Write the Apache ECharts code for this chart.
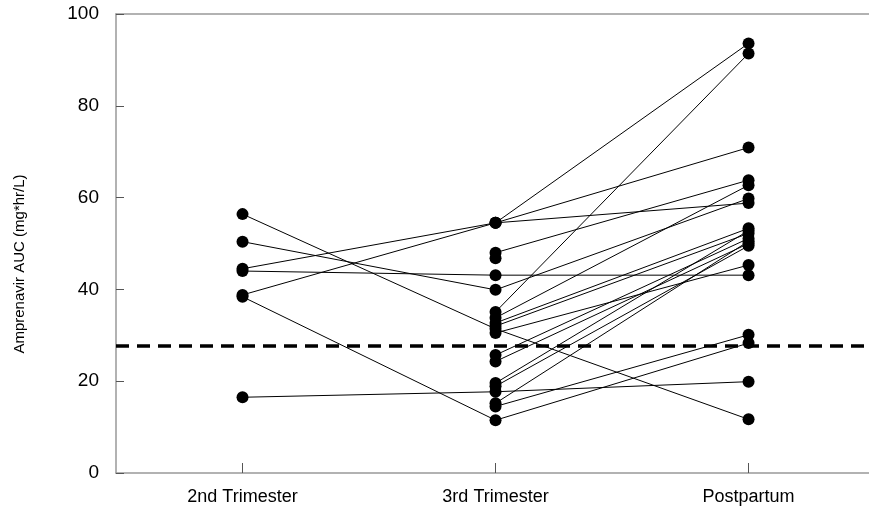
<!DOCTYPE html>
<html>
<head>
<meta charset="utf-8">
<script src="https://cdn.jsdelivr.net/npm/echarts@6/dist/echarts.min.js"></script>
<style>html,body{margin:0;padding:0;background:#fff;overflow:hidden}#c{width:869px;height:510px}</style>
</head>
<body>
<div id="c"></div>
<script>
// Visits (x categories)
const categories = ['2nd Trimester', '3rd Trimester', 'Postpartum'];
// One entry per subject; null = no measurement at that visit
const trimester2 = [56.4, 50.4, 44.5, 44.0, 38.8, 38.4, 16.5, null, null, null, null, null, null, null, null, null, null, null, null, null, null];
const trimester3 = [31.4, 39.9, 54.5, 43.1, 54.5, 11.5, 17.7, 54.5, 48.0, 46.8, 35.1, 33.8, 32.7, 32.0, 30.5, 25.7, 24.3, 19.6, 18.9, 15.2, 14.5];
const postpartum = [11.7, 59.8, 93.6, 43.1, 70.9, 28.3, 19.9, 58.8, 63.8, null, 91.4, 62.7, 53.3, 52.2, 45.3, 51.1, 50.0, 52.8, 49.5, 50.5, 30.1];
// Reference threshold line
const thresholdValue = 27.7;
// Y axis ticks
const yTicks = [0, 20, 40, 60, 80, 100];
const yTitle = 'Amprenavir AUC (mg*hr/L)';

const catIdx = categories.map((c, i) => i);
const chart = echarts.init(document.getElementById('c'), null, {renderer: 'canvas'});
const series = trimester2.map((v, i) => ({
  type: 'line',
  data: [v, trimester3[i], postpartum[i]].map((y, k) => [catIdx[k], y]),
  symbol: 'circle',
  symbolSize: 12,
  showAllSymbol: true,
  connectNulls: false,
  animation: false,
  itemStyle: {color: '#000'},
  lineStyle: {color: '#000', width: 1},
  emphasis: {disabled: true},
  z: 3
}));
series.push({
  type: 'line',
  data: [],
  animation: false,
  markLine: {
    silent: true,
    symbol: ['none', 'none'],
    label: {show: false},
    lineStyle: {color: '#000', width: 3.5, type: [13, 8]},
    data: [{yAxis: thresholdValue}]
  }
});

const xMin = -0.5, xMax = 2.476;
chart.setOption({
  backgroundColor: '#fff',
  animation: false,
  grid: {left: 116, top: 14, bottom: 37, right: 0, show: false},
  graphic: [{
    type: 'text',
    x: 20, y: 264,
    rotation: Math.PI / 2,
    style: {text: yTitle, fill: '#000', font: '15px "Liberation Sans", Arial, sans-serif', textAlign: 'center', textVerticalAlign: 'middle'}
  }],
  xAxis: [{
    type: 'value',
    min: xMin,
    max: xMax,
    axisLine: {onZero: false, lineStyle: {color: '#999', width: 1.5}},
    axisTick: {show: true, inside: true, length: 10, customValues: catIdx, lineStyle: {color: '#555', width: 1}},
    axisLabel: {
      color: '#000', fontFamily: 'Liberation Sans, Arial, sans-serif', fontSize: 18, margin: 15,
      customValues: catIdx,
      formatter: (v) => categories[Math.round(v)] || ''
    },
    splitLine: {show: false}
  }, {
    type: 'value',
    min: xMin,
    max: xMax,
    position: 'top',
    axisLine: {show: true, onZero: false, lineStyle: {color: '#999', width: 1.5}},
    axisTick: {show: false},
    axisLabel: {show: false},
    splitLine: {show: false}
  }],
  yAxis: {
    type: 'value',
    min: yTicks[0],
    max: yTicks[yTicks.length - 1],
    interval: 20,
    axisLine: {show: true, onZero: false, lineStyle: {color: '#999', width: 1.5}},
    axisTick: {show: true, inside: true, length: 8, lineStyle: {color: '#555', width: 1}},
    axisLabel: {color: '#000', fontFamily: 'Liberation Sans, Arial, sans-serif', fontSize: 19, margin: 17},
    splitLine: {show: false}
  },
  series: series
});
</script>
</body>
</html>
